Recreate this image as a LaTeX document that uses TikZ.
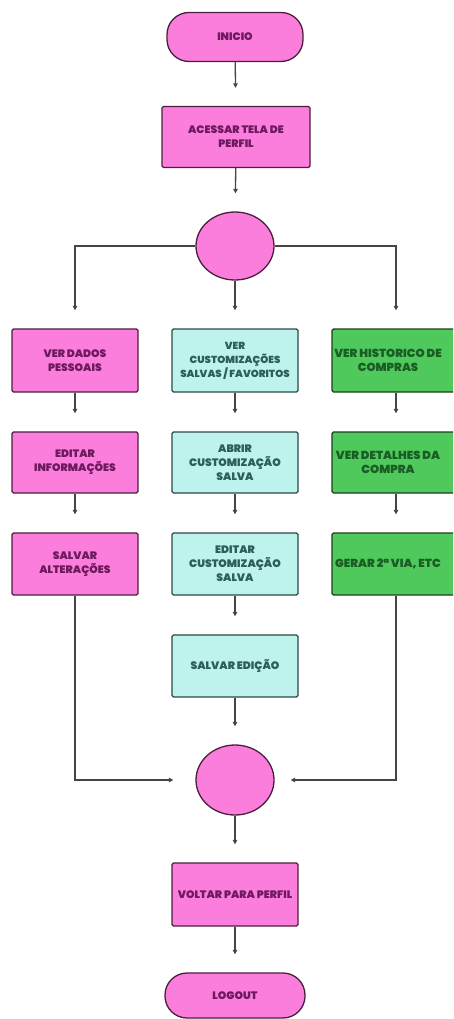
\documentclass[tikz,border=0pt]{standalone}
\usepackage{fontspec}
\setmainfont{Poppins}[BoldFont={* Black}]
\usetikzlibrary{arrows.meta,shapes.geometric}

\definecolor{pinkfill}{HTML}{FC7EDC}
\definecolor{pinkline}{HTML}{4A1F3D}
\definecolor{pinktext}{HTML}{6E1A5E}
\definecolor{cyanfill}{HTML}{BDF3EC}
\definecolor{cyanline}{HTML}{2B4A48}
\definecolor{cyantext}{HTML}{2E5E5A}
\definecolor{greenfill}{HTML}{4FC85C}
\definecolor{greenline}{HTML}{1E3F20}
\definecolor{greentext}{HTML}{1A5E25}
\definecolor{wire}{HTML}{454545}

% pad a line on the right so that it sits a little left of centre
\newcommand{\padr}{\hspace*{16pt}}

\tikzset{
  box/.style={draw, line width=1.3pt, rounded corners=1.5pt, align=center,
    font=\bfseries\fontsize{10.8}{14}\selectfont, inner sep=2pt},
  pinkbox/.style={box, fill=pinkfill, draw=pinkline, text=pinktext},
  cyanbox/.style={box, fill=cyanfill, draw=cyanline, text=cyantext},
  greenbox/.style={box, fill=greenfill, draw=greenline, text=greentext,
    font=\bfseries\fontsize{11.6}{14}\selectfont},
  terminal/.style={pinkbox, rounded corners=22pt},
  junction/.style={ellipse, draw=pinkline, fill=pinkfill, line width=1.3pt, inner sep=0pt},
  flow/.style={draw=wire, line width=1.3pt, -{Triangle[length=4.5pt,width=4.5pt]}},
  gap/.style={shorten >=18pt}
}

\begin{document}
\begin{tikzpicture}[x=1pt,y=-1pt]
  \useasboundingbox (0,0) rectangle (453,1019);
  \clip (0,0) rectangle (453,1019);

  % main spine
  \node[terminal, minimum width=136pt, minimum height=49pt] (inicio) at (235,37) {INICIO};
  \node[pinkbox, minimum width=148pt, minimum height=61pt] (acessar) at (236,137) {ACESSAR TELA DE\\PERFIL};
  \node[junction, minimum width=78pt, minimum height=68pt] (split) at (235,246) {};

  % left column: personal data
  \node[pinkbox, minimum width=126pt, minimum height=63pt] (dados) at (75,360.5) {VER DADOS\\PESSOAIS};
  \node[pinkbox, minimum width=126pt, minimum height=61pt] (editinfo) at (75,462.5) {EDITAR\\INFORMAÇÕES};
  \node[pinkbox, minimum width=126pt, minimum height=62pt] (salvalt) at (75,564) {SALVAR\\ALTERAÇÕES};

  % middle column: customizations
  \node[cyanbox, minimum width=126pt, minimum height=63pt, font=\bfseries\fontsize{10.2}{14}\selectfont] (custom) at (235,360.5) {VER\\CUSTOMIZAÇÕES\\SALVAS / FAVORITOS};
  \node[cyanbox, minimum width=126pt, minimum height=61pt] (abrir) at (235,462.5) {ABRIR\\CUSTOMIZAÇÃO\\SALVA};
  \node[cyanbox, minimum width=126pt, minimum height=62pt] (editcust) at (235,564) {EDITAR\\CUSTOMIZAÇÃO\\SALVA};
  \node[cyanbox, minimum width=126pt, minimum height=62pt] (salved) at (235,666) {SALVAR EDIÇÃO};

  % right column: purchases
  \node[greenbox, minimum width=128pt, minimum height=63pt] (hist) at (396,360.5) {VER HISTORICO DE\padr\\COMPRAS\padr};
  \node[greenbox, minimum width=128pt, minimum height=61pt] (detalhe) at (396,462.5) {VER DETALHES DA\padr\\COMPRA\padr};
  \node[greenbox, minimum width=128pt, minimum height=62pt] (gerar) at (396,564) {GERAR 2ª VIA, ETC\padr};

  % merge and exit
  \node[junction, minimum width=78pt, minimum height=70pt] (merge) at (235,780) {};
  \node[pinkbox, minimum width=126pt, minimum height=63pt] (voltar) at (235,894.5) {VOLTAR PARA PERFIL};
  \node[terminal, minimum width=140pt, minimum height=45pt] (logout) at (235,995.5) {LOGOUT};

  % connectors
  \draw[flow, gap] (inicio) -- (acessar);
  \draw[flow, gap] (acessar) -- (split);
  \draw[flow, gap] (split.west) -| (dados.north);
  \draw[flow, gap] (split) -- (custom);
  \draw[flow, gap] (split.east) -| (hist.north);

  \draw[flow, gap] (dados) -- (editinfo);
  \draw[flow, gap] (editinfo) -- (salvalt);
  \draw[flow, gap] (custom) -- (abrir);
  \draw[flow, gap] (abrir) -- (editcust);
  \draw[flow, gap] (editcust) -- (salved);
  \draw[flow, gap] (salved) -- (merge);
  \draw[flow, gap] (hist) -- (detalhe);
  \draw[flow, gap] (detalhe) -- (gerar);

  \draw[flow, shorten >=22pt] (salvalt.south) |- (merge.west);
  \draw[flow, shorten >=16pt] (gerar.south) |- (merge.east);

  \draw[flow, gap] (merge) -- (voltar);
  \draw[flow, gap] (voltar) -- (logout);
\end{tikzpicture}
\end{document}
